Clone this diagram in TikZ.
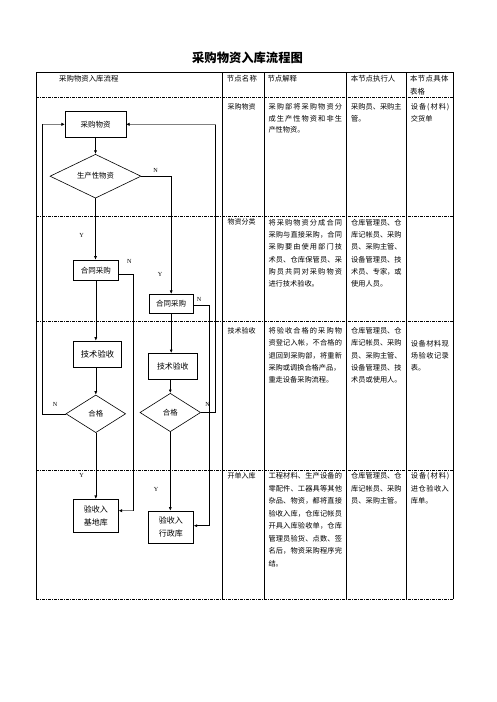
\documentclass[tikz,border=0pt]{standalone}
\usepackage{fontspec}
\setmainfont{Liberation Serif}
\newfontfamily\cjk{Noto Sans CJK SC}
\usetikzlibrary{shapes.geometric,arrows.meta}
\makeatletter
\def\sprd#1{\sprdA#1\relax}
\def\sprdA#1{#1\sprdB}
\def\sprdB#1{\ifx#1\relax\else\hskip 0pt plus 1fil\relax #1\expandafter\sprdB\fi}
\newcommand\jl[2]{\makebox[#1pt][s]{\sprd{#2}}}
\makeatother
\begin{document}
\begin{tikzpicture}[x=1pt,y=-1pt,
  tline/.style={line width=0.8pt},
  rowline/.style={line width=0.8pt, dash pattern=on 3pt off 1pt on 1pt off 1pt},
  box/.style={draw, line width=0.7pt, rectangle, inner sep=0pt, align=center, font=\cjk\fontsize{7.5}{9}\selectfont},
  dia/.style={draw, diamond, line width=0.6pt, inner sep=0pt, font=\cjk\fontsize{7.4}{9}\selectfont},
  conn/.style={line width=0.6pt},
  arr/.style={conn, -{Latex[length=3.5pt,width=3pt]}},
  garr/.style={line width=1.3pt, gray, -{Latex[length=3.5pt,width=3.5pt,color=black]}},
  lab/.style={inner sep=0pt, font=\fontsize{6.2}{7}\selectfont},
  hdr/.style={inner sep=0pt, font=\cjk\fontsize{7.4}{13}\selectfont},
  cname/.style={inner sep=0pt, anchor=west, font=\cjk\fontsize{7}{12}\selectfont},
  cell/.style={inner sep=0pt, anchor=north west, align=left, font=\cjk\fontsize{7.2}{12.3}\selectfont},
  cellA/.style={cell, font=\cjk\fontsize{7.2}{11.6}\selectfont},
  cellD/.style={cell, font=\cjk\fontsize{7.2}{12.5}\selectfont}
]
\fill[white] (0,0) rectangle (496,702);
\useasboundingbox (0,0) rectangle (496,702);

% title
\node[font=\cjk\bfseries\fontsize{12.3}{14}\selectfont] (title) at (247.5,58) {采购物资入库流程图};

% table frame
\draw[tline] (36,72) -- (453,72);
\foreach \xx in {36,222.7,264,346.5,406,453} {\draw[tline] (\xx,72) -- (\xx,599);}
\foreach \yy in {97.5,216.5,321,470.7,599} {\draw[rowline] (36,\yy) -- (453,\yy);}

% header
\node[hdr] (h1) at (88.8,79) {采购物资入库流程};
\node[hdr, anchor=west] (h2) at (226.7,79) {\jl{30}{节点名称}};
\node[hdr, anchor=west] (h3) at (267.3,79) {节点解释};
\node[hdr, anchor=west] (h4) at (350.7,79) {\jl{43.5}{本节点执行人}};
\node[hdr, anchor=north west, align=left] (h5) at (410,75.5) {\jl{38.3}{本节点具体}\\表格};

% row 1
\node[cname] (r1c2) at (227.3,106.7) {采购物资};
\node[cellA] (r1c3) at (268.3,103.3) {\jl{73.5}{采购部将采购物资分}\\\jl{73.5}{成生产性物资和非生}\\产性物资。};
\node[cellA] (r1c4) at (351,103.3) {\jl{50}{采购员、采购主}\\管。};
\node[cellA] (r1c5) at (410.7,103.3) {\jl{38.5}{设备(材料)}\\交货单};

% row 2
\node[cname] (r2c2) at (227.3,222.3) {物资分类};
\node[cell] (r2c3) at (268.3,218.9) {\jl{73.5}{将采购物资分成合同}\\\jl{73.5}{采购与直接采购，合同}\\\jl{73.5}{采购要由使用部门技}\\\jl{73.5}{术员、仓库保管员、采}\\\jl{73.5}{购员共同对采购物资}\\进行技术验收。};
\node[cell] (r2c4) at (351,218.9) {\jl{50}{仓库管理员、仓}\\\jl{50}{库记帐员、采购}\\员、采购主管、\\\jl{50}{设备管理员、技}\\\jl{50}{术员、专家，或}\\使用人员。};

% row 3
\node[cname] (r3c2) at (227.3,330.7) {技术验收};
\node[cell] (r3c3) at (268.3,327.3) {\jl{73.5}{将验收合格的采购物}\\\jl{73.5}{资登记入帐，不合格的}\\\jl{73.5}{退回到采购部，将重新}\\采购或调换合格产品，\\重走设备采购流程。};
\node[cell] (r3c4) at (351,327.3) {\jl{50}{仓库管理员、仓}\\\jl{50}{库记帐员、采购}\\员、采购主管、\\\jl{50}{设备管理员、技}\\术员或使用人。};
\node[cell] (r3c5) at (410.7,339.9) {\jl{38}{设备材料现}\\\jl{38}{场验收记录}\\表。};

% row 4
\node[cname] (r4c2) at (227.3,475.7) {开单入库};
\node[cellD] (r4c3) at (268.3,472.3) {\jl{73.5}{工程材料、生产设备的}\\\jl{73.5}{零配件、工器具等其他}\\\jl{73.5}{杂品、物资，都将直接}\\\jl{73.5}{验收入库，仓库记帐员}\\\jl{73.5}{开具入库验收单，仓库}\\\jl{73.5}{管理员验货、点数、签}\\\jl{73.5}{名后，物资采购程序完}\\结。};
\node[cellD] (r4c4) at (351,472.3) {\jl{50}{仓库管理员、仓}\\\jl{50}{库记帐员、采购}\\员、采购主管。};
\node[cellD] (r4c5) at (410.7,472.3) {\jl{38.5}{设备(材料)}\\\jl{38}{进仓验收入}\\库单。};

% flowchart nodes
\node[box, minimum width=60.7pt, minimum height=26.7pt] (b1) at (95.5,124.3) {采购物资};
\node[dia, minimum width=91pt, minimum height=39pt] (d1) at (95.5,176.2) {生产性物资};
\node[box, minimum width=45pt, minimum height=20.3pt] (b2) at (95.8,270.2) {合同采购};
\node[box, minimum width=44.3pt, minimum height=19pt] (b3) at (171.2,303.8) {合同采购};
\node[box, minimum width=48.4pt, minimum height=26.3pt, font=\cjk\fontsize{8.3}{10}\selectfont] (b4) at (97.5,354.2) {技术验收};
\node[box, minimum width=49pt, minimum height=25.7pt, font=\cjk\fontsize{7.9}{10}\selectfont] (b5) at (172.8,366.2) {技术验收};
\node[dia, minimum width=59.7pt, minimum height=37.7pt] (d2) at (95.8,413.8) {合格};
\node[dia, minimum width=60.7pt, minimum height=38.4pt] (d3) at (170.3,412.5) {合格};
\node[box, minimum width=45pt, minimum height=33pt, font=\cjk\fontsize{8}{13.3}\selectfont] (b6) at (95.8,515.8) {验收入\\基地库};
\node[box, minimum width=45pt, minimum height=32.3pt, font=\cjk\fontsize{8}{13.3}\selectfont] (b7) at (170.8,527.2) {验收入\\行政库};

% helper coordinates
\coordinate (pL) at (42.7,413.8);
\coordinate (qL) at (42.7,124.3);
\coordinate (pR) at (215.7,412.5);
\coordinate (qR) at (215.7,124.3);
\coordinate (m1a) at (133.3,274.3);
\coordinate (m1b) at (133.3,510.7);
\coordinate (m2a) at (209,305.7);
\coordinate (m2b) at (209,525.7);

% connectors
\draw[arr] (b1.south) -- (b1.south |- d1.north);
\draw[arr] (d1.south) -- (d1.south |- b2.north);
\draw[arr] (d1.east) -| (b3.north);
\draw[arr] (b2.south) -- (b2.south |- b4.north);
\draw[arr] (b3.south) -- (b3.south |- b5.north);
\draw[arr] (d2.north |- b4.south) -- (d2.north);
\draw[arr] (d3.north |- b5.south) -- (d3.north);
\draw[arr] (d2.south) -- (d2.south |- b6.north);
\draw[arr] (d3.south) -- (d3.south |- b7.north);
\draw[conn] (d2.west) -- (pL) -- (qL);
\draw[garr] (qL) -- (b1.west);
\draw[conn] (d3.east) -- (pR) -- (qR);
\draw[garr] (qR) -- (b1.east);
\draw[conn] (b2.east |- m1a) -- (m1a) -- (m1b);
\draw[garr] (m1b) -- (m1b -| b6.east);
\draw[conn] (b3.east |- m2a) -- (m2a) -- (m2b);
\draw[arr] (m2b) -- (m2b -| b7.east);

% labels
\node[lab] (lY1) at (81.7,235) {Y};
\node[lab] (lN1) at (155.7,170) {N};
\node[lab] (lN2) at (129.3,261.7) {N};
\node[lab] (lY2) at (160,274) {Y};
\node[lab] (lN3) at (199,299.3) {N};
\node[lab] (lN4) at (55,404.3) {N};
\node[lab] (lN5) at (207.7,404.3) {N};
\node[lab] (lY3) at (81.7,475) {Y};
\node[lab] (lY4) at (156,489) {Y};
\end{tikzpicture}
\end{document}
